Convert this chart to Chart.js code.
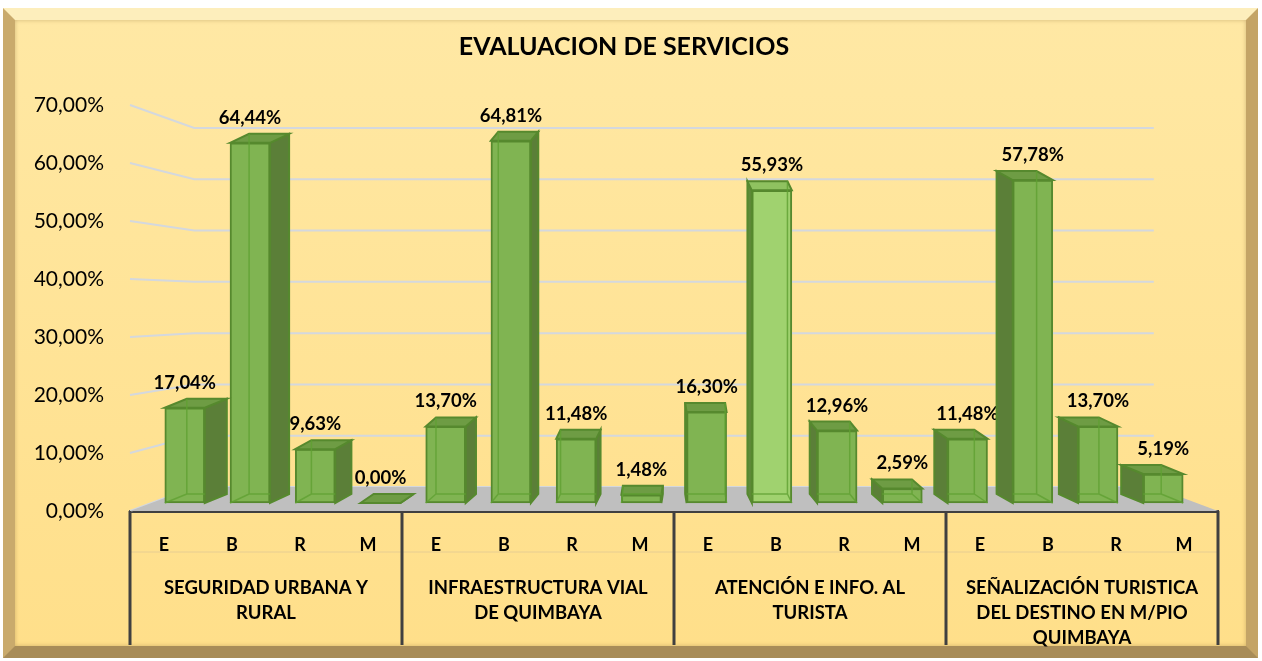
<!DOCTYPE html>
<html>
<head>
<meta charset="utf-8">
<script src="https://cdn.jsdelivr.net/npm/chart.js@4/dist/chart.umd.min.js"></script>
<style>
  html, body { margin: 0; padding: 0; background: #fff; }
  #frame {
    position: absolute; left: 3px; top: 8px; width: 1231px; height: 626px;
    border-style: solid; border-width: 12px;
    border-color: #fdeebc #c4a466 #a88c58 #c9aa6c;
    background: linear-gradient(#ffe8a4, #ffdf8a);
    box-shadow: inset 0 0 4px rgba(120, 90, 40, 0.35);
  }
  #wrap { position: absolute; left: 0; top: 0; width: 1262px; height: 661px; }
</style>
</head>
<body>
<div id="frame"></div>
<div id="wrap"><canvas id="serviciosChart" width="1262" height="661"></canvas></div>
<script>
// valores (porcentajes)
var grupos = [
    ["SEGURIDAD URBANA Y", "RURAL"],
    ["INFRAESTRUCTURA VIAL", "DE QUIMBAYA"],
    ["ATENCIÓN E INFO. AL", "TURISTA"],
    ["SEÑALIZACIÓN TURISTICA", "DEL DESTINO EN M/PIO", "QUIMBAYA"]
];
var notas = ["E", "B", "R", "M"];
var seguridad = [17.04, 64.44, 9.63, 0.00];
var infraestructura = [13.70, 64.81, 11.48, 1.48];
var atencion = [16.30, 55.93, 12.96, 2.59];
var senalizacion = [11.48, 57.78, 13.70, 5.19];

var valores = seguridad.concat(infraestructura, atencion, senalizacion);
var subLabels = [].concat(notas, notas, notas, notas);
var destacado = 9; // barra B de atencion, mas clara

var FONT = "Lato";
var K_LADO = 0.045;   // ancho del lado segun distancia al centro
var PROF_Y = 9;       // profundidad vertical de las barras
var FONDO = 0.882;    // escala de la pared del fondo

function pct(v) {
    return v.toFixed(2).replace(".", ",") + "%";
}

var salaPlugin = {
    id: "sala",
    beforeDatasetsDraw: function (chart) {
        var ctx = chart.ctx, a = chart.chartArea;
        var yl = chart.scales.yl, yb = chart.scales.yb;
        var vp = (a.left + a.right) / 2;
        var bl = vp + FONDO * (a.left - vp), br = vp + FONDO * (a.right - vp);
        ctx.save();
        ctx.strokeStyle = "#d4d8de";
        ctx.lineWidth = 2;
        yl.ticks.forEach(function (t) {
            ctx.beginPath();
            ctx.moveTo(a.left, yl.getPixelForValue(t.value));
            ctx.lineTo(bl, yb.getPixelForValue(t.value));
            ctx.lineTo(br, yb.getPixelForValue(t.value));
            ctx.stroke();
        });
        // piso
        ctx.fillStyle = "#bfbfbf";
        ctx.beginPath();
        ctx.moveTo(a.left, a.bottom);
        ctx.lineTo(bl, yb.getPixelForValue(0));
        ctx.lineTo(br, yb.getPixelForValue(0));
        ctx.lineTo(a.right, a.bottom);
        ctx.closePath();
        ctx.fill();
        ctx.restore();
    },
    afterDatasetsDraw: function (chart) {
        var ctx = chart.ctx, a = chart.chartArea;
        var vp = (a.left + a.right) / 2;
        var meta = chart.getDatasetMeta(0);
        ctx.save();
        meta.data.forEach(function (bar, i) {
            var p = bar.getProps(["x", "y", "base", "width"], true);
            var xl = p.x - p.width / 2, xr = p.x + p.width / 2;
            var dx = K_LADO * (vp - p.x), dy = -PROF_Y;
            var sx = dx > 0 ? xr : xl;
            var claro = i === destacado;
            ctx.lineWidth = 2;
            ctx.strokeStyle = "#56892e";
            // lado
            ctx.fillStyle = claro ? "#5f8a3a" : "#5b7f38";
            ctx.beginPath();
            ctx.moveTo(sx, p.y);
            ctx.lineTo(sx + dx, p.y + dy);
            ctx.lineTo(sx + dx, p.base + dy);
            ctx.lineTo(sx, p.base);
            ctx.closePath();
            ctx.fill();
            ctx.stroke();
            // tapa
            ctx.fillStyle = claro ? "#8fc260" : "#6e9c44";
            ctx.beginPath();
            ctx.moveTo(xl, p.y);
            ctx.lineTo(xl + dx, p.y + dy);
            ctx.lineTo(xr + dx, p.y + dy);
            ctx.lineTo(xr, p.y);
            ctx.closePath();
            ctx.fill();
            ctx.stroke();
            // aristas de atras, vistas por transparencia
            if (p.base - p.y > 4) {
                ctx.strokeStyle = "rgba(95, 160, 50, 0.8)";
                ctx.lineWidth = 1.5;
                var bx = dx > 0 ? xl + dx : xr + dx;
                ctx.beginPath();
                ctx.moveTo(bx, p.y + dy);
                ctx.lineTo(bx, p.base + dy);
                ctx.lineTo(dx > 0 ? xr : xl, p.base + dy);
                ctx.moveTo(bx, p.base + dy);
                ctx.lineTo(dx > 0 ? xl : xr, p.base);
                ctx.stroke();
            }
            // etiqueta
            ctx.fillStyle = "#000";
            ctx.font = "bold 18.5px " + FONT;
            ctx.textAlign = "center";
            ctx.textBaseline = "middle";
            ctx.fillText(pct(valores[i]), p.x, p.y - 25);
        });
        ctx.restore();
    },
    afterDraw: function (chart) {
        var ctx = chart.ctx, a = chart.chartArea;
        var x2 = chart.scales.x2, x = chart.scales.x;
        var half = (x2.getPixelForValue(1) - x2.getPixelForValue(0)) / 2;
        ctx.save();
        ctx.strokeStyle = "rgba(215, 195, 150, 0.6)";
        ctx.lineWidth = 1;
        ctx.beginPath();
        ctx.moveTo(a.left, x.bottom);
        ctx.lineTo(a.right, x.bottom);
        ctx.stroke();
        ctx.strokeStyle = "#404040";
        ctx.lineWidth = 3;
        for (var i = 0; i <= grupos.length; i++) {
            var px = x2.getPixelForValue(i) - half;
            ctx.beginPath();
            ctx.moveTo(px, a.bottom);
            ctx.lineTo(px, x2.bottom - 7);
            ctx.stroke();
        }
        ctx.restore();
    }
};

var serviciosChart = new Chart("serviciosChart", {
    type: "bar",
    data: {
        labels: subLabels,
        datasets: [{
            data: valores.map(function (v, i) { return { x: i, y: v }; }),
            xAxisID: "xb",
            yAxisID: "y",
            backgroundColor: valores.map(function (v, i) { return i === destacado ? "#a0d26f" : "#80b452"; }),
            borderColor: "#56892e",
            borderWidth: 2,
            borderSkipped: false,
            barThickness: 40
        }]
    },
    options: {
        responsive: false,
        animation: false,
        layout: { padding: { left: 30, right: 44, top: 0, bottom: 9 } },
        plugins: {
            legend: { display: false },
            tooltip: { enabled: false },
            title: {
                display: true,
                text: "EVALUACION DE SERVICIOS",
                color: "#000",
                font: { family: FONT, size: 25, weight: "bold", lineHeight: 1.2 },
                padding: { top: 32, bottom: 43 }
            }
        },
        scales: {
            xb: { type: "linear", display: false, offset: false, min: -0.84, max: 15.84 },
            y: { type: "linear", display: false, position: "left", min: -1.431, max: 71.2 },
            yb: { type: "linear", display: false, position: "left", min: -4.68, max: 74.48 },
            yl: {
                type: "linear", position: "left", min: 0, max: 70,
                grid: { display: false },
                border: { display: false },
                ticks: {
                    stepSize: 10, padding: 18, color: "#000",
                    font: { family: FONT, size: 21 },
                    callback: function (v) { return pct(v); }
                },
                afterFit: function (s) { s.width = 100; }
            },
            x: {
                type: "category", position: "bottom", offset: true,
                grid: { display: false },
                border: { display: true, color: "#404040", width: 3 },
                ticks: { padding: 15, color: "#000", font: { family: FONT, size: 18, weight: "bold" } },
                afterFit: function (s) { s.height = 41; }
            },
            x2: {
                type: "category", position: "bottom", offset: true,
                labels: grupos,
                grid: { display: false },
                border: { display: false },
                ticks: { padding: 15.5, color: "#000", maxRotation: 0, autoSkip: false,
                         font: { family: FONT, size: 18.5, weight: "bold", lineHeight: "25px" } },
                afterFit: function (s) { s.height = 100; }
            }
        }
    },
    plugins: [salaPlugin]
});
</script>
</body>
</html>
